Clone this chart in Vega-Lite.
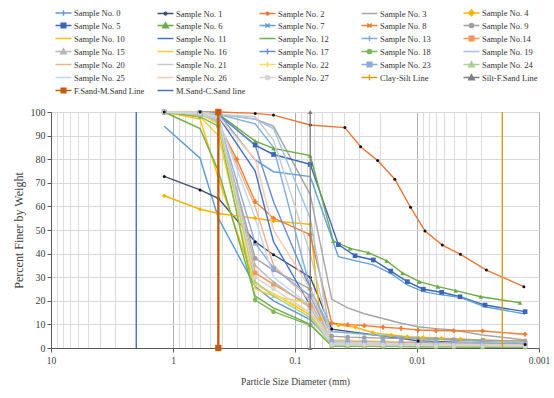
{
  "$schema": "https://vega.github.io/schema/vega-lite/v6.json",
  "width": 488,
  "height": 236,
  "autosize": {"type": "none"},
  "padding": {"left": 51, "top": 112, "right": 15, "bottom": 50},
  "background": "white",
  "config": {
    "font": "Liberation Serif",
    "view": {"stroke": "#595959", "strokeWidth": 1},
    "axis": {"labelFont": "Liberation Serif", "titleFont": "Liberation Serif", "labelColor": "#404040", "titleColor": "#404040", "titleFontWeight": "normal", "domainColor": "#595959", "tickColor": "#595959"}
  },
  "datasets": {
    "curves": [
      {"s":"Sample No. 0","d":1.18,"p":94},{"s":"Sample No. 0","d":0.6,"p":80.4},{"s":"Sample No. 0","d":0.425,"p":55},{"s":"Sample No. 0","d":0.212,"p":26},{"s":"Sample No. 0","d":0.15,"p":20},{"s":"Sample No. 0","d":0.075,"p":12},{"s":"Sample No. 0","d":0.05,"p":2.5},{"s":"Sample No. 0","d":0.0098,"p":1.5},{"s":"Sample No. 0","d":0.0013,"p":1},
      {"s":"Sample No. 1","d":1.18,"p":72.7},{"s":"Sample No. 1","d":0.6,"p":67},{"s":"Sample No. 1","d":0.425,"p":63.4},{"s":"Sample No. 1","d":0.212,"p":45},{"s":"Sample No. 1","d":0.15,"p":39.5},{"s":"Sample No. 1","d":0.075,"p":30},{"s":"Sample No. 1","d":0.05,"p":8},{"s":"Sample No. 1","d":0.0098,"p":3},{"s":"Sample No. 1","d":0.0013,"p":1.5},
      {"s":"Sample No. 2","d":1.18,"p":100},{"s":"Sample No. 2","d":0.6,"p":100},{"s":"Sample No. 2","d":0.425,"p":100},{"s":"Sample No. 2","d":0.212,"p":99.4},{"s":"Sample No. 2","d":0.15,"p":98.7},{"s":"Sample No. 2","d":0.075,"p":94.5},{"s":"Sample No. 2","d":0.039,"p":93.4},{"s":"Sample No. 2","d":0.029,"p":85.3},{"s":"Sample No. 2","d":0.021,"p":79.4},{"s":"Sample No. 2","d":0.0152,"p":71.5},{"s":"Sample No. 2","d":0.0113,"p":59.6},{"s":"Sample No. 2","d":0.0086,"p":49.6},{"s":"Sample No. 2","d":0.0062,"p":43.6},{"s":"Sample No. 2","d":0.0044,"p":39.7},{"s":"Sample No. 2","d":0.0027,"p":33},{"s":"Sample No. 2","d":0.00133,"p":26},
      {"s":"Sample No. 3","d":1.18,"p":100},{"s":"Sample No. 3","d":0.6,"p":100},{"s":"Sample No. 3","d":0.425,"p":99},{"s":"Sample No. 3","d":0.212,"p":97},{"s":"Sample No. 3","d":0.15,"p":94},{"s":"Sample No. 3","d":0.075,"p":65},{"s":"Sample No. 3","d":0.05,"p":20.6},{"s":"Sample No. 3","d":0.037,"p":17},{"s":"Sample No. 3","d":0.027,"p":14.5},{"s":"Sample No. 3","d":0.019,"p":12.5},{"s":"Sample No. 3","d":0.0135,"p":10.5},{"s":"Sample No. 3","d":0.0098,"p":9},{"s":"Sample No. 3","d":0.007,"p":8.2},{"s":"Sample No. 3","d":0.005,"p":7.6},{"s":"Sample No. 3","d":0.0029,"p":5.5},{"s":"Sample No. 3","d":0.0013,"p":3.4},
      {"s":"Sample No. 4","d":1.18,"p":64.5},{"s":"Sample No. 4","d":0.6,"p":58.8},{"s":"Sample No. 4","d":0.425,"p":57},{"s":"Sample No. 4","d":0.212,"p":55},{"s":"Sample No. 4","d":0.15,"p":53.8},{"s":"Sample No. 4","d":0.075,"p":52.4},{"s":"Sample No. 4","d":0.062,"p":12.3},{"s":"Sample No. 4","d":0.044,"p":9.7},{"s":"Sample No. 4","d":0.032,"p":8.8},{"s":"Sample No. 4","d":0.023,"p":6.5},{"s":"Sample No. 4","d":0.0163,"p":5.5},{"s":"Sample No. 4","d":0.012,"p":4.8},{"s":"Sample No. 4","d":0.0089,"p":4.5},{"s":"Sample No. 4","d":0.0063,"p":4.1},{"s":"Sample No. 4","d":0.0044,"p":3.8},{"s":"Sample No. 4","d":0.0028,"p":3.3},{"s":"Sample No. 4","d":0.0013,"p":2.8},
      {"s":"Sample No. 5","d":1.18,"p":100},{"s":"Sample No. 5","d":0.6,"p":99.7},{"s":"Sample No. 5","d":0.425,"p":99},{"s":"Sample No. 5","d":0.212,"p":86},{"s":"Sample No. 5","d":0.15,"p":82},{"s":"Sample No. 5","d":0.075,"p":77.8},{"s":"Sample No. 5","d":0.0441,"p":43.8},{"s":"Sample No. 5","d":0.0322,"p":39.1},{"s":"Sample No. 5","d":0.0228,"p":37.3},{"s":"Sample No. 5","d":0.0164,"p":32.6},{"s":"Sample No. 5","d":0.012,"p":28.1},{"s":"Sample No. 5","d":0.00888,"p":24.9},{"s":"Sample No. 5","d":0.00628,"p":23.6},{"s":"Sample No. 5","d":0.00444,"p":21.7},{"s":"Sample No. 5","d":0.00277,"p":18.2},{"s":"Sample No. 5","d":0.0013,"p":15.4},
      {"s":"Sample No. 6","d":1.18,"p":100},{"s":"Sample No. 6","d":0.6,"p":99.8},{"s":"Sample No. 6","d":0.425,"p":99.2},{"s":"Sample No. 6","d":0.212,"p":87.7},{"s":"Sample No. 6","d":0.15,"p":84.6},{"s":"Sample No. 6","d":0.075,"p":81.5},{"s":"Sample No. 6","d":0.0485,"p":45.3},{"s":"Sample No. 6","d":0.0354,"p":42.2},{"s":"Sample No. 6","d":0.0251,"p":40.4},{"s":"Sample No. 6","d":0.0177,"p":36.9},{"s":"Sample No. 6","d":0.0131,"p":31.7},{"s":"Sample No. 6","d":0.00957,"p":28.1},{"s":"Sample No. 6","d":0.00676,"p":26},{"s":"Sample No. 6","d":0.00482,"p":24.3},{"s":"Sample No. 6","d":0.003,"p":21.7},{"s":"Sample No. 6","d":0.00143,"p":19.2},
      {"s":"Sample No. 7","d":1.18,"p":100},{"s":"Sample No. 7","d":0.6,"p":100},{"s":"Sample No. 7","d":0.425,"p":99.5},{"s":"Sample No. 7","d":0.212,"p":79.7},{"s":"Sample No. 7","d":0.15,"p":74.7},{"s":"Sample No. 7","d":0.075,"p":72.6},{"s":"Sample No. 7","d":0.0441,"p":38.7},{"s":"Sample No. 7","d":0.0322,"p":37},{"s":"Sample No. 7","d":0.0228,"p":35.2},{"s":"Sample No. 7","d":0.0164,"p":31.6},{"s":"Sample No. 7","d":0.012,"p":26.7},{"s":"Sample No. 7","d":0.00888,"p":23.9},{"s":"Sample No. 7","d":0.00628,"p":22.5},{"s":"Sample No. 7","d":0.00444,"p":21.5},{"s":"Sample No. 7","d":0.00277,"p":17.5},{"s":"Sample No. 7","d":0.0013,"p":14.4},
      {"s":"Sample No. 8","d":1.18,"p":100},{"s":"Sample No. 8","d":0.6,"p":99.5},{"s":"Sample No. 8","d":0.425,"p":95},{"s":"Sample No. 8","d":0.3,"p":80},{"s":"Sample No. 8","d":0.212,"p":62},{"s":"Sample No. 8","d":0.15,"p":55},{"s":"Sample No. 8","d":0.075,"p":48},{"s":"Sample No. 8","d":0.05,"p":10.5},{"s":"Sample No. 8","d":0.037,"p":9.9},{"s":"Sample No. 8","d":0.027,"p":9.5},{"s":"Sample No. 8","d":0.019,"p":8.8},{"s":"Sample No. 8","d":0.0135,"p":8.3},{"s":"Sample No. 8","d":0.0098,"p":7.6},{"s":"Sample No. 8","d":0.007,"p":7.4},{"s":"Sample No. 8","d":0.005,"p":7.3},{"s":"Sample No. 8","d":0.0029,"p":7.2},{"s":"Sample No. 8","d":0.0013,"p":5.8},
      {"s":"Sample No. 9","d":1.18,"p":100},{"s":"Sample No. 9","d":0.6,"p":99},{"s":"Sample No. 9","d":0.425,"p":96},{"s":"Sample No. 9","d":0.212,"p":38},{"s":"Sample No. 9","d":0.15,"p":33},{"s":"Sample No. 9","d":0.075,"p":25},{"s":"Sample No. 9","d":0.05,"p":5},{"s":"Sample No. 9","d":0.037,"p":4.6},{"s":"Sample No. 9","d":0.027,"p":4.4},{"s":"Sample No. 9","d":0.019,"p":4.2},{"s":"Sample No. 9","d":0.0135,"p":4},{"s":"Sample No. 9","d":0.0098,"p":3.9},{"s":"Sample No. 9","d":0.007,"p":3.8},{"s":"Sample No. 9","d":0.005,"p":3.6},{"s":"Sample No. 9","d":0.0029,"p":3.3},{"s":"Sample No. 9","d":0.0013,"p":3},
      {"s":"Sample No. 10","d":1.18,"p":100},{"s":"Sample No. 10","d":0.6,"p":97},{"s":"Sample No. 10","d":0.425,"p":72},{"s":"Sample No. 10","d":0.212,"p":27},{"s":"Sample No. 10","d":0.15,"p":23},{"s":"Sample No. 10","d":0.075,"p":14},{"s":"Sample No. 10","d":0.05,"p":2},{"s":"Sample No. 10","d":0.0098,"p":1.2},{"s":"Sample No. 10","d":0.0013,"p":0.6},
      {"s":"Sample No. 11","d":1.18,"p":100},{"s":"Sample No. 11","d":0.6,"p":100},{"s":"Sample No. 11","d":0.425,"p":98},{"s":"Sample No. 11","d":0.212,"p":75},{"s":"Sample No. 11","d":0.15,"p":45},{"s":"Sample No. 11","d":0.075,"p":18},{"s":"Sample No. 11","d":0.05,"p":1.5},{"s":"Sample No. 11","d":0.0098,"p":1},{"s":"Sample No. 11","d":0.0013,"p":0.5},
      {"s":"Sample No. 12","d":1.18,"p":100},{"s":"Sample No. 12","d":0.6,"p":93},{"s":"Sample No. 12","d":0.425,"p":75},{"s":"Sample No. 12","d":0.212,"p":22},{"s":"Sample No. 12","d":0.15,"p":17},{"s":"Sample No. 12","d":0.075,"p":10},{"s":"Sample No. 12","d":0.05,"p":1},{"s":"Sample No. 12","d":0.0098,"p":0.6},{"s":"Sample No. 12","d":0.0013,"p":0.3},
      {"s":"Sample No. 13","d":1.18,"p":100},{"s":"Sample No. 13","d":0.6,"p":100},{"s":"Sample No. 13","d":0.425,"p":99},{"s":"Sample No. 13","d":0.212,"p":95},{"s":"Sample No. 13","d":0.15,"p":85},{"s":"Sample No. 13","d":0.075,"p":25},{"s":"Sample No. 13","d":0.05,"p":7},{"s":"Sample No. 13","d":0.0098,"p":4},{"s":"Sample No. 13","d":0.0013,"p":2},
      {"s":"Sample No.14","d":1.18,"p":100},{"s":"Sample No.14","d":0.6,"p":99},{"s":"Sample No.14","d":0.425,"p":96},{"s":"Sample No.14","d":0.212,"p":31.8},{"s":"Sample No.14","d":0.15,"p":27},{"s":"Sample No.14","d":0.075,"p":18},{"s":"Sample No.14","d":0.05,"p":2.5},{"s":"Sample No.14","d":0.037,"p":2.3},{"s":"Sample No.14","d":0.027,"p":2.1},{"s":"Sample No.14","d":0.019,"p":2},{"s":"Sample No.14","d":0.0135,"p":1.8},{"s":"Sample No.14","d":0.0098,"p":1.7},{"s":"Sample No.14","d":0.007,"p":1.6},{"s":"Sample No.14","d":0.005,"p":1.5},{"s":"Sample No.14","d":0.0029,"p":1.3},{"s":"Sample No.14","d":0.0013,"p":1.2},
      {"s":"Sample No. 15","d":1.18,"p":100},{"s":"Sample No. 15","d":0.6,"p":99},{"s":"Sample No. 15","d":0.425,"p":97},{"s":"Sample No. 15","d":0.212,"p":35},{"s":"Sample No. 15","d":0.15,"p":28},{"s":"Sample No. 15","d":0.075,"p":17},{"s":"Sample No. 15","d":0.05,"p":2},{"s":"Sample No. 15","d":0.037,"p":1.9},{"s":"Sample No. 15","d":0.027,"p":1.8},{"s":"Sample No. 15","d":0.019,"p":1.7},{"s":"Sample No. 15","d":0.0135,"p":1.6},{"s":"Sample No. 15","d":0.0098,"p":1.5},{"s":"Sample No. 15","d":0.007,"p":1.4},{"s":"Sample No. 15","d":0.005,"p":1.3},{"s":"Sample No. 15","d":0.0029,"p":1.2},{"s":"Sample No. 15","d":0.0013,"p":1},
      {"s":"Sample No. 16","d":1.18,"p":100},{"s":"Sample No. 16","d":0.6,"p":98},{"s":"Sample No. 16","d":0.425,"p":90},{"s":"Sample No. 16","d":0.212,"p":25},{"s":"Sample No. 16","d":0.15,"p":22},{"s":"Sample No. 16","d":0.075,"p":19},{"s":"Sample No. 16","d":0.05,"p":2.2},{"s":"Sample No. 16","d":0.0098,"p":1.3},{"s":"Sample No. 16","d":0.0013,"p":0.8},
      {"s":"Sample No. 17","d":1.18,"p":100},{"s":"Sample No. 17","d":0.6,"p":100},{"s":"Sample No. 17","d":0.425,"p":99},{"s":"Sample No. 17","d":0.212,"p":86},{"s":"Sample No. 17","d":0.15,"p":62},{"s":"Sample No. 17","d":0.075,"p":25},{"s":"Sample No. 17","d":0.05,"p":2},{"s":"Sample No. 17","d":0.0098,"p":1.5},{"s":"Sample No. 17","d":0.0013,"p":1},
      {"s":"Sample No. 18","d":1.18,"p":100},{"s":"Sample No. 18","d":0.6,"p":98},{"s":"Sample No. 18","d":0.425,"p":94},{"s":"Sample No. 18","d":0.212,"p":20.3},{"s":"Sample No. 18","d":0.15,"p":15.4},{"s":"Sample No. 18","d":0.075,"p":9.7},{"s":"Sample No. 18","d":0.05,"p":0.8},{"s":"Sample No. 18","d":0.037,"p":0.7},{"s":"Sample No. 18","d":0.027,"p":0.7},{"s":"Sample No. 18","d":0.019,"p":0.6},{"s":"Sample No. 18","d":0.0135,"p":0.6},{"s":"Sample No. 18","d":0.0098,"p":0.5},{"s":"Sample No. 18","d":0.007,"p":0.5},{"s":"Sample No. 18","d":0.005,"p":0.5},{"s":"Sample No. 18","d":0.0029,"p":0.4},{"s":"Sample No. 18","d":0.0013,"p":0.4},
      {"s":"Sample No. 19","d":1.18,"p":100},{"s":"Sample No. 19","d":0.6,"p":100},{"s":"Sample No. 19","d":0.425,"p":99},{"s":"Sample No. 19","d":0.212,"p":97},{"s":"Sample No. 19","d":0.15,"p":93},{"s":"Sample No. 19","d":0.075,"p":55},{"s":"Sample No. 19","d":0.05,"p":2.5},{"s":"Sample No. 19","d":0.0098,"p":1.8},{"s":"Sample No. 19","d":0.0013,"p":1.2},
      {"s":"Sample No. 20","d":1.18,"p":100},{"s":"Sample No. 20","d":0.6,"p":99},{"s":"Sample No. 20","d":0.425,"p":96},{"s":"Sample No. 20","d":0.212,"p":60},{"s":"Sample No. 20","d":0.15,"p":35},{"s":"Sample No. 20","d":0.075,"p":20},{"s":"Sample No. 20","d":0.05,"p":1.8},{"s":"Sample No. 20","d":0.0098,"p":1.2},{"s":"Sample No. 20","d":0.0013,"p":0.8},
      {"s":"Sample No. 21","d":1.18,"p":100},{"s":"Sample No. 21","d":0.6,"p":100},{"s":"Sample No. 21","d":0.425,"p":99},{"s":"Sample No. 21","d":0.212,"p":98},{"s":"Sample No. 21","d":0.15,"p":88},{"s":"Sample No. 21","d":0.075,"p":40},{"s":"Sample No. 21","d":0.05,"p":3},{"s":"Sample No. 21","d":0.0098,"p":2},{"s":"Sample No. 21","d":0.0013,"p":1.5},
      {"s":"Sample No. 22","d":1.18,"p":100},{"s":"Sample No. 22","d":0.6,"p":99},{"s":"Sample No. 22","d":0.425,"p":95},{"s":"Sample No. 22","d":0.212,"p":27},{"s":"Sample No. 22","d":0.15,"p":23},{"s":"Sample No. 22","d":0.075,"p":15},{"s":"Sample No. 22","d":0.05,"p":3.5},{"s":"Sample No. 22","d":0.0098,"p":2.5},{"s":"Sample No. 22","d":0.0013,"p":1.8},
      {"s":"Sample No. 23","d":1.18,"p":100},{"s":"Sample No. 23","d":0.6,"p":99},{"s":"Sample No. 23","d":0.425,"p":97},{"s":"Sample No. 23","d":0.212,"p":44.4},{"s":"Sample No. 23","d":0.15,"p":33.8},{"s":"Sample No. 23","d":0.075,"p":22},{"s":"Sample No. 23","d":0.05,"p":3},{"s":"Sample No. 23","d":0.037,"p":2.8},{"s":"Sample No. 23","d":0.027,"p":2.6},{"s":"Sample No. 23","d":0.019,"p":2.5},{"s":"Sample No. 23","d":0.0135,"p":2.4},{"s":"Sample No. 23","d":0.0098,"p":2.3},{"s":"Sample No. 23","d":0.007,"p":2.2},{"s":"Sample No. 23","d":0.005,"p":2.1},{"s":"Sample No. 23","d":0.0029,"p":2},{"s":"Sample No. 23","d":0.0013,"p":1.8},
      {"s":"Sample No. 24","d":1.18,"p":100},{"s":"Sample No. 24","d":0.6,"p":99},{"s":"Sample No. 24","d":0.425,"p":96},{"s":"Sample No. 24","d":0.212,"p":28},{"s":"Sample No. 24","d":0.15,"p":22},{"s":"Sample No. 24","d":0.075,"p":13},{"s":"Sample No. 24","d":0.05,"p":1.2},{"s":"Sample No. 24","d":0.037,"p":1.1},{"s":"Sample No. 24","d":0.027,"p":1},{"s":"Sample No. 24","d":0.019,"p":1},{"s":"Sample No. 24","d":0.0135,"p":0.9},{"s":"Sample No. 24","d":0.0098,"p":0.9},{"s":"Sample No. 24","d":0.007,"p":0.8},{"s":"Sample No. 24","d":0.005,"p":0.8},{"s":"Sample No. 24","d":0.0029,"p":0.7},{"s":"Sample No. 24","d":0.0013,"p":0.6},
      {"s":"Sample No. 25","d":1.18,"p":100},{"s":"Sample No. 25","d":0.6,"p":99},{"s":"Sample No. 25","d":0.425,"p":97},{"s":"Sample No. 25","d":0.212,"p":55},{"s":"Sample No. 25","d":0.15,"p":30},{"s":"Sample No. 25","d":0.075,"p":18},{"s":"Sample No. 25","d":0.05,"p":2},{"s":"Sample No. 25","d":0.0098,"p":1.5},{"s":"Sample No. 25","d":0.0013,"p":1},
      {"s":"Sample No. 26","d":1.18,"p":100},{"s":"Sample No. 26","d":0.6,"p":100},{"s":"Sample No. 26","d":0.425,"p":98},{"s":"Sample No. 26","d":0.212,"p":80},{"s":"Sample No. 26","d":0.15,"p":50},{"s":"Sample No. 26","d":0.075,"p":25},{"s":"Sample No. 26","d":0.05,"p":2.6},{"s":"Sample No. 26","d":0.0098,"p":1.8},{"s":"Sample No. 26","d":0.0013,"p":1.2},
      {"s":"Sample No. 27","d":1.18,"p":100},{"s":"Sample No. 27","d":0.6,"p":99.5},{"s":"Sample No. 27","d":0.425,"p":98},{"s":"Sample No. 27","d":0.212,"p":30},{"s":"Sample No. 27","d":0.15,"p":25},{"s":"Sample No. 27","d":0.075,"p":15},{"s":"Sample No. 27","d":0.05,"p":1.5},{"s":"Sample No. 27","d":0.037,"p":1.4},{"s":"Sample No. 27","d":0.027,"p":1.3},{"s":"Sample No. 27","d":0.019,"p":1.3},{"s":"Sample No. 27","d":0.0135,"p":1.2},{"s":"Sample No. 27","d":0.0098,"p":1.2},{"s":"Sample No. 27","d":0.007,"p":1.1},{"s":"Sample No. 27","d":0.005,"p":1.1},{"s":"Sample No. 27","d":0.0029,"p":1},{"s":"Sample No. 27","d":0.0013,"p":0.9}
    ],
    "bounds": [
      {"s":"Clay-Silt Line","d":0.002,"p":0},{"s":"Clay-Silt Line","d":0.002,"p":100},
      {"s":"Silt-F.Sand Line","d":0.075,"p":0},{"s":"Silt-F.Sand Line","d":0.075,"p":100},
      {"s":"F.Sand-M.Sand Line","d":0.425,"p":0},{"s":"F.Sand-M.Sand Line","d":0.425,"p":100},
      {"s":"M.Sand-C.Sand line","d":2,"p":0},{"s":"M.Sand-C.Sand line","d":2,"p":100}
    ]
  },
  "encoding": {
    "x": {
      "field": "d", "type": "quantitative",
      "scale": {"type": "log", "domain": [0.001, 10], "reverse": true, "nice": false},
      "axis": {
        "title": "Particle Size Diameter (mm)",
        "values": [10,9,8,7,6,5,4,3,2,1,0.9,0.8,0.7,0.6,0.5,0.4,0.3,0.2,0.1,0.09,0.08,0.07,0.06,0.05,0.04,0.03,0.02,0.01,0.009,0.008,0.007,0.006,0.005,0.004,0.003,0.002,0.001],
        "format": "~g",
        "labelExpr": "indexof(['10','1','0.1','0.01','0.001'], datum.label) >= 0 ? datum.label : ''",
        "labelOverlap": false,
        "labelFlush": false,
        "labelFontSize": 9.5,
        "labelPadding": 3,
        "tickSize": 4,
        "tickOpacity": {"condition": {"test": "indexof(['10','1','0.1','0.01','0.001'], format(datum.value, '~g')) >= 0", "value": 1}, "value": 0},
        "gridColor": {"condition": {"test": "indexof(['10','1','0.1','0.01','0.001'], format(datum.value, '~g')) >= 0", "value": "#AFAFAF"}, "value": "#DDDDDD"},
        "gridWidth": 1,
        "titleFontSize": 9.5,
        "titlePadding": 12
      }
    },
    "y": {
      "field": "p", "type": "quantitative",
      "scale": {"domain": [0, 100], "nice": false},
      "axis": {
        "title": "Percent Finer by Weight",
        "values": [0,10,20,30,40,50,60,70,80,90,100],
        "labelFlush": false,
        "labelFontSize": 10,
        "labelPadding": 2,
        "tickSize": 4,
        "gridColor": "#D9D9D9",
        "titleFontSize": 12,
        "titlePadding": 5
      }
    }
  },
  "layer": [
    {
      "data": {"name": "curves"},
      "mark": {"type": "line", "strokeWidth": 1.4},
      "encoding": {
        "color": {
          "field": "s", "type": "nominal",
          "scale": {
            "domain": ["Sample No. 0","Sample No. 1","Sample No. 2","Sample No. 3","Sample No. 4","Sample No. 5","Sample No. 6","Sample No. 7","Sample No. 8","Sample No. 9","Sample No. 10","Sample No. 11","Sample No. 12","Sample No. 13","Sample No.14","Sample No. 15","Sample No. 16","Sample No. 17","Sample No. 18","Sample No. 19","Sample No. 20","Sample No. 21","Sample No. 22","Sample No. 23","Sample No. 24","Sample No. 25","Sample No. 26","Sample No. 27","Clay-Silt Line","Silt-F.Sand Line","F.Sand-M.Sand Line","M.Sand-C.Sand line"],
            "range": ["#5B9BD5","#3F5270","#E8783A","#A5A5A5","#F2B600","#3A66B8","#6AAA45","#64A0D8","#ED7D31","#A0A0A0","#FFC000","#4472C4","#70AD47","#7CAFDD","#F1975A","#B7B7B7","#FFCD33","#698ED0","#7DB85A","#9DC3E6","#F4B183","#C9C9C9","#FFD966","#8FAADC","#A9D18E","#BDD7EE","#F8CBAD","#D5D5D5","#D4A017","#7F7F7F","#C55A11","#4A72B5"]
          },
          "legend": {
            "title": null,
            "orient": "none",
            "direction": "horizontal",
            "legendX": 6,
            "legendY": -106,
            "columns": 5,
            "symbolLimit": 40,
            "gridAlign": "all",
            "columnPadding": 9,
            "rowPadding": 0,
            "padding": 0,
            "symbolSize": 121,
            "symbolStrokeWidth": 1.5,
            "labelFont": "Liberation Serif",
            "labelFontSize": 8.5,
            "labelColor": "#333333",
            "labelOffset": 4,
            "labelLimit": 120,
            "encode": {
              "symbols": {
                "update": {
                  "shape": {"signal": "({'p':'M-1.45,0H1.45M0,-0.5V0.5','d':'M-1.45,0H1.45M-0.25,0A0.25,0.25 0 1,0 0.25,0A0.25,0.25 0 1,0 -0.25,0Z','D':'M-1.45,0H1.45M0,-0.5L0.5,0L0,0.5L-0.5,0Z','s':'M-1.45,0H1.45M-0.42,-0.42H0.42V0.42H-0.42Z','t':'M-1.45,0H1.45M0,-0.5L0.5,0.4H-0.5Z','x':'M-1.45,0H1.45M-0.38,-0.38L0.38,0.38M-0.38,0.38L0.38,-0.38','c':'M-1.45,0H1.45M-0.38,0A0.38,0.38 0 1,0 0.38,0A0.38,0.38 0 1,0 -0.38,0Z'})[({'Sample No. 0':'p','Sample No. 1':'d','Sample No. 2':'d','Sample No. 4':'D','Sample No. 5':'s','Sample No. 6':'t','Sample No. 7':'x','Sample No. 8':'x','Sample No. 9':'c','Sample No. 13':'p','Sample No.14':'s','Sample No. 15':'t','Sample No. 17':'p','Sample No. 18':'c','Sample No. 22':'p','Sample No. 23':'s','Sample No. 24':'t','Sample No. 27':'c','Clay-Silt Line':'p','Silt-F.Sand Line':'t','F.Sand-M.Sand Line':'s'})[datum.value]] || 'M-1.45,0H1.45'"},
                  "stroke": {"signal": "scale('color', datum.value)"},
                  "fill": {"signal": "(datum.value == 'Sample No. 1' || datum.value == 'Sample No. 2') ? '#111111' : scale('color', datum.value)"},
                  "strokeWidth": {"value": 1.5},
                  "opacity": {"value": 1}
                }
              }
            }
          }
        }
      }
    },
    {
      "data": {"name": "curves"},
      "transform": [{"filter": {"field": "s", "oneOf": ["Sample No. 4","Sample No. 5","Sample No. 6","Sample No. 8","Sample No. 9","Sample No.14","Sample No. 15","Sample No. 18","Sample No. 23","Sample No. 24","Sample No. 27"]}}],
      "mark": {"type": "point", "filled": true, "opacity": 1},
      "encoding": {
        "color": {"field": "s", "type": "nominal"},
        "shape": {
          "field": "s", "type": "nominal", "legend": null,
          "scale": {
            "domain": ["Sample No. 4","Sample No. 5","Sample No. 6","Sample No. 8","Sample No. 9","Sample No.14","Sample No. 15","Sample No. 18","Sample No. 23","Sample No. 24","Sample No. 27"],
            "range": ["diamond","square","triangle-up","cross","circle","square","triangle-up","circle","square","triangle-up","circle"]
          }
        },
        "size": {"value": 22}
      }
    },
    {
      "data": {"name": "curves"},
      "transform": [{"filter": {"field": "s", "oneOf": ["Sample No. 1","Sample No. 2"]}}],
      "mark": {"type": "point", "filled": true, "opacity": 1, "shape": "circle"},
      "encoding": {
        "color": {"value": "#111111"},
        "size": {"value": 9}
      }
    },
    {
      "data": {"name": "bounds"},
      "mark": {"type": "line"},
      "encoding": {
        "color": {"field": "s", "type": "nominal"},
        "strokeWidth": {"condition": {"test": "datum.s == 'F.Sand-M.Sand Line'", "value": 2.4}, "value": 1.4}
      }
    },
    {
      "data": {"name": "bounds"},
      "transform": [{"filter": {"field": "s", "oneOf": ["Silt-F.Sand Line","F.Sand-M.Sand Line"]}}],
      "mark": {"type": "point", "filled": true, "opacity": 1, "clip": false},
      "encoding": {
        "color": {"field": "s", "type": "nominal"},
        "shape": {
          "field": "s", "type": "nominal", "legend": null,
          "scale": {"domain": ["Silt-F.Sand Line","F.Sand-M.Sand Line"], "range": ["triangle-up","square"]}
        },
        "size": {"condition": {"test": "datum.s == 'F.Sand-M.Sand Line'", "value": 40}, "value": 24}
      }
    }
  ],
  "resolve": {"scale": {"shape": "independent"}}
}
